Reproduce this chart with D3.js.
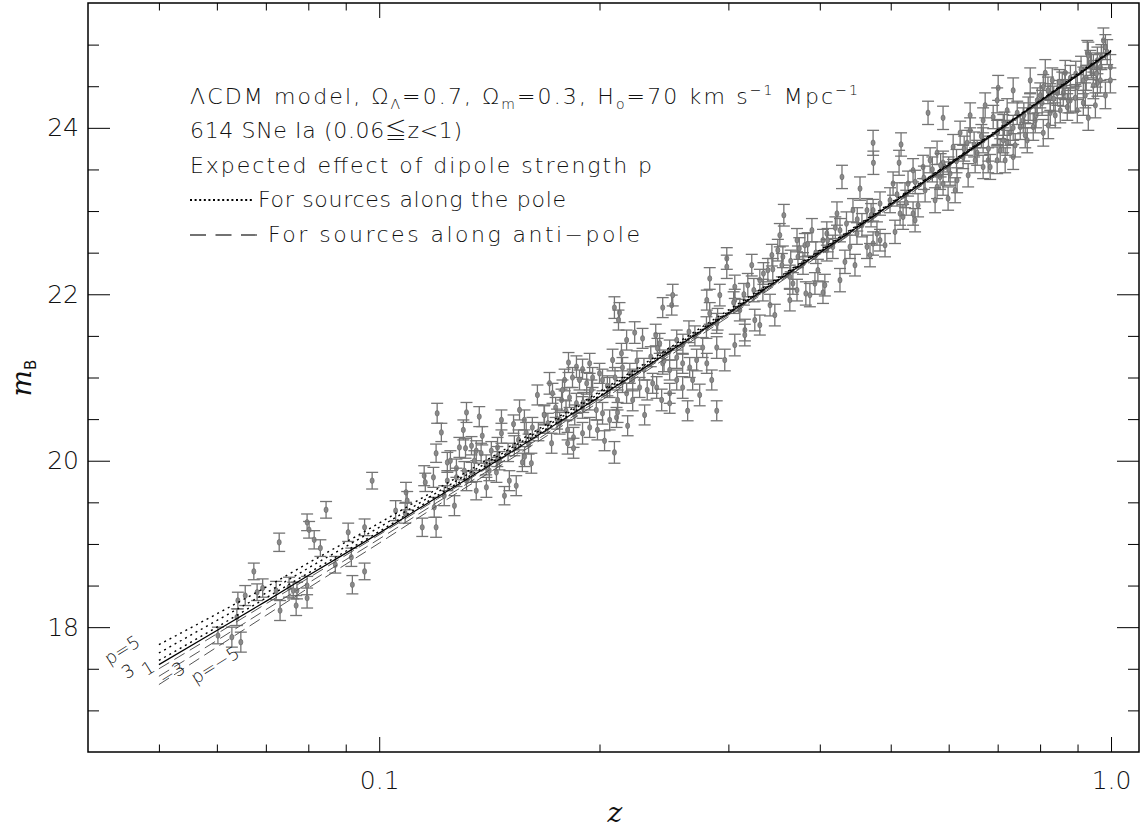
<!DOCTYPE html>
<html>
<head>
<meta charset="utf-8">
<script src="https://cdn.jsdelivr.net/npm/d3@7"></script>
<style>
  body { margin: 0; background: #fff; }
  svg text { font-family: "DejaVu Sans", sans-serif; font-weight: 200; fill: #111; }
</style>
</head>
<body>
<svg id="chart" width="1142" height="829"></svg>
<script>

// ---- data ----
// supernova redshifts, apparent B magnitudes and 1-sigma errors
var snZ = [
  0.0730,0.0846,0.0797,0.0802,0.0815,0.0831,0.0907,0.0955,0.0916,0.0871,
  0.0955,0.0919,0.0674,0.0693,0.0681,0.0656,0.0641,0.0723,0.0753,0.0763,
  0.0772,0.0770,0.0797,0.0797,0.0732,0.0639,0.0602,0.0629,0.0647,0.0978,
  0.1200,0.1316,0.1216,0.1303,0.1370,0.1383,0.1469,0.1469,0.1526,0.1588,
  0.1619,0.1196,0.1239,0.1251,0.1275,0.1287,0.1312,0.1337,0.1357,0.1378,
  0.1423,0.1451,0.1152,0.1156,0.1186,0.1239,0.1275,0.1316,0.1337,0.1357,
  0.1401,0.1446,0.1483,0.1506,0.1539,0.1569,0.1614,0.1088,0.1092,0.1053,
  0.1085,0.1145,0.1196,0.1189,0.1645,0.1709,0.1725,0.1814,0.1860,0.1896,
  0.1939,0.1792,0.1837,0.1878,0.1921,0.1957,0.2000,0.2019,0.2065,0.1742,
  0.1775,0.1820,0.1860,0.1896,0.1939,0.1980,0.2019,0.2065,0.2110,0.1764,
  0.1809,0.1843,0.1809,0.1843,0.1720,0.1896,0.1939,0.1987,0.2084,0.2143,
  0.2178,0.2234,0.2290,0.2150,0.2220,0.2269,0.2178,0.2220,0.2117,0.2117,
  0.2096,0.2130,0.2123,0.2387,0.2440,0.2510,0.2518,0.2417,0.2494,0.2550,
  0.2598,0.2656,0.2715,0.2803,0.2803,0.2829,0.2494,0.2550,0.2598,0.2494,
  0.2494,0.2394,0.2324,0.2681,0.2892,0.2892,0.2767,0.2440,0.2364,0.4289,
  0.4539,0.4730,0.4735,0.5165,0.5133,0.5623,0.5895,0.3572,0.3527,0.3505,
  0.3561,0.3723,0.3734,0.3794,0.2985,0.2985,0.2829,0.2920,0.3061,0.3312,
  0.3344,0.3640,0.3675,0.3723,0.3828,0.3939,0.4040,0.4089,0.4040,0.4222,
  0.4262,0.4089,0.4167,0.4398,0.4496,0.4440,0.4640,0.4730,0.4834,0.4788,
  0.4834,0.4730,0.4640,0.4989,0.5037,0.5149,0.5198,0.5364,0.5398,0.5280,
  0.5364,0.5536,0.5659,0.5785,0.5895,0.5840,0.5895,0.6027,0.6161,0.5785,
  0.6085,0.6220,0.6419,0.6358,0.6279,0.6562,0.6687,0.6687,0.6837,0.6687,
  0.6902,0.7011,0.6989,0.7212,0.7124,0.7124,0.7056,0.7281,0.7350,0.7444,
  0.7586,0.7755,0.8131,0.8080,0.7929,0.8260,0.8444,0.8659,0.8605,0.8797,
  0.8993,0.9165,0.9281,0.9369,0.9580,0.9763,0.9825,0.9670,0.9979,0.9980,
  0.9580,0.9165,0.8993,0.8080,0.7683,0.7515,0.7829,0.8260,0.8524,0.8714,
  0.7212,0.7350,0.6989,0.6989,0.9880,0.9310,0.9460,0.3110,0.3260,0.3420,
  0.3160,0.2892,
  0.2032,0.2096,0.2185,0.2305,0.2432,0.2639,0.2741,0.2847,0.2966,0.3061,
  0.3159,0.3312,0.3472,0.3640,0.3877,0.4064,0.4262,0.4468,0.4684,0.4911,
  0.3061,0.3189,0.3229,0.3397,0.3440,0.3816,0.3902,0.3976,0.4329,0.4567,
  0.5068,0.5230,0.5449,0.5571,0.5749,0.5989,0.6123,0.6379,0.6521,0.6794,
  0.7167,0.7397,0.7634,0.7879,0.8208,0.8390,0.8742,0.8936,0.9223,0.9458,
  0.9670,0.9825,0.9520,0.9310,0.8578,0.8312,0.8004,0.7707,0.6730,0.6419,
  0.1227,0.1267,0.1307,0.1349,0.1414,0.1460,0.1530,0.1579,0.1682,0.1555,
  0.140,0.145,0.150,0.155,0.160,0.165,0.170,0.175,0.180,0.185,
  0.190,0.195,0.158,0.168,0.178,0.205,0.210,0.215,0.220,0.225,
  0.230,0.235,0.240,0.245,0.255,0.260,0.265,0.270,0.280,0.290,
  0.305,0.315,0.325,0.335,0.345,0.355,0.365,0.375,0.385,0.395,
  0.410,0.420,0.435,0.450,0.470,0.510,0.525,0.540,0.555,0.570,
  0.585,0.600,0.615,0.630,0.650,0.665,0.680,0.700,0.715,0.735,
  0.760,0.775,0.790,0.805,0.820,0.835,0.850,0.865,0.880,0.895,
  0.910,0.925,0.940,0.955,0.970
];
var snM = [
  19.02,19.41,19.26,19.17,19.05,18.95,19.14,19.20,18.84,18.75,
  18.67,18.51,18.67,18.47,18.42,18.38,18.32,18.44,18.48,18.44,
  18.44,18.26,18.50,18.35,18.20,18.12,17.90,17.88,17.82,19.76,
  20.57,20.58,20.34,20.37,20.53,20.30,20.49,20.33,20.44,20.34,
  20.40,20.09,19.98,20.00,19.91,20.16,20.15,20.18,20.12,20.09,
  20.12,20.16,19.82,19.74,19.80,19.76,19.80,19.76,19.86,19.64,
  19.68,19.86,19.58,19.76,19.70,19.98,19.97,19.62,19.52,19.40,
  19.37,19.20,19.20,19.44,20.79,20.93,20.81,21.18,21.13,21.10,
  21.17,20.97,21.00,20.97,20.93,21.00,21.05,20.97,20.88,20.64,
  20.73,20.76,20.69,20.64,20.73,20.61,20.57,20.49,20.52,20.45,
  20.37,20.28,20.21,20.15,20.21,20.33,20.40,20.37,21.21,21.29,
  21.45,21.54,21.47,21.12,20.97,20.88,20.81,20.73,20.58,20.73,
  21.84,21.78,21.69,21.51,21.84,21.87,21.99,21.41,21.33,21.24,
  21.17,21.12,21.21,21.17,21.93,21.77,21.09,20.97,20.88,20.81,
  20.69,20.88,20.85,20.97,21.36,21.65,21.36,21.17,20.93,23.41,
  23.27,23.82,23.58,23.80,23.58,24.18,24.12,22.95,22.71,22.53,
  22.45,22.65,22.45,22.37,22.43,22.33,22.19,21.99,22.09,22.17,
  22.05,22.21,22.13,22.05,22.01,22.13,22.02,22.73,22.65,22.97,
  22.77,22.53,22.57,22.57,22.73,23.01,23.01,23.01,23.09,22.73,
  22.65,22.61,22.57,23.13,23.33,22.97,22.93,22.97,22.89,23.33,
  23.49,23.53,23.61,23.70,23.58,23.41,23.33,23.45,23.37,23.29,
  23.77,23.94,23.97,23.82,23.65,23.70,23.85,23.53,23.53,24.09,
  24.13,24.48,24.33,24.21,24.01,23.85,23.73,23.94,24.45,24.18,
  24.09,24.57,24.66,24.49,24.33,24.37,24.42,24.66,24.42,24.33,
  24.49,24.57,24.90,24.78,24.81,25.05,24.97,24.73,24.73,24.57,
  24.54,24.30,24.21,23.94,23.85,24.01,24.01,24.18,24.21,24.25,
  23.82,23.65,23.61,23.94,24.91,24.87,24.73,21.81,21.69,21.87,
  21.57,20.60,
  20.24,20.10,20.42,20.55,20.73,20.60,20.79,20.97,21.21,21.39,
  21.51,21.63,21.75,21.93,21.99,22.11,22.17,22.35,22.47,22.59,
  21.93,22.11,22.35,22.29,22.47,22.59,22.77,22.29,22.39,22.83,
  22.75,23.19,23.07,23.25,23.13,23.15,23.25,23.43,23.61,23.61,
  23.61,23.79,23.91,24.09,24.03,24.15,24.33,24.36,24.39,24.51,
  24.57,24.39,24.27,24.12,24.51,24.57,24.39,24.21,24.27,24.15,
  19.58,19.46,19.88,20.00,19.88,20.00,20.18,20.49,20.55,20.61,
  19.95,20.05,20.10,20.25,20.20,20.35,20.45,20.50,20.60,20.55,
  20.70,20.85,20.05,20.55,20.85,20.90,21.00,20.95,21.05,21.20,
  21.10,21.25,21.35,21.20,21.45,21.40,21.55,21.50,21.60,21.70,
  21.90,22.00,22.05,22.25,22.30,22.35,22.40,22.55,22.60,22.50,
  22.65,22.80,22.85,22.90,22.95,23.20,23.10,23.35,23.40,23.50,
  23.55,23.50,23.60,23.75,23.80,23.90,23.75,23.95,24.05,24.00,
  24.15,24.25,24.15,24.30,24.45,24.35,24.55,24.50,24.60,24.65,
  24.70,24.60,24.75,24.65,24.85
];
var snErr = [
  0.11,0.10,0.10,0.10,0.11,0.10,0.11,0.10,0.11,0.10,
  0.10,0.11,0.10,0.11,0.10,0.12,0.10,0.11,0.12,0.10,
  0.10,0.12,0.11,0.12,0.12,0.10,0.10,0.12,0.12,0.10,
  0.12,0.12,0.11,0.12,0.12,0.11,0.12,0.12,0.11,0.12,
  0.12,0.11,0.12,0.12,0.11,0.12,0.12,0.11,0.12,0.12,
  0.11,0.12,0.12,0.11,0.12,0.12,0.11,0.12,0.12,0.11,
  0.12,0.12,0.11,0.12,0.12,0.11,0.12,0.12,0.11,0.12,
  0.12,0.11,0.12,0.12,0.12,0.13,0.12,0.12,0.13,0.12,
  0.12,0.13,0.12,0.12,0.13,0.12,0.12,0.13,0.12,0.12,
  0.13,0.12,0.12,0.13,0.12,0.12,0.13,0.12,0.12,0.13,
  0.12,0.12,0.13,0.12,0.12,0.13,0.12,0.12,0.13,0.12,
  0.12,0.13,0.12,0.12,0.13,0.12,0.12,0.13,0.12,0.12,
  0.13,0.12,0.12,0.13,0.12,0.12,0.13,0.12,0.12,0.13,
  0.12,0.12,0.13,0.12,0.12,0.13,0.12,0.12,0.13,0.12,
  0.12,0.13,0.12,0.12,0.13,0.12,0.12,0.13,0.12,0.14,
  0.14,0.15,0.14,0.14,0.15,0.14,0.14,0.13,0.14,0.13,
  0.13,0.14,0.13,0.13,0.13,0.14,0.13,0.13,0.14,0.13,
  0.13,0.14,0.13,0.13,0.14,0.13,0.13,0.14,0.13,0.14,
  0.14,0.13,0.14,0.14,0.13,0.14,0.14,0.13,0.14,0.14,
  0.13,0.14,0.14,0.15,0.14,0.14,0.15,0.14,0.14,0.15,
  0.14,0.14,0.15,0.14,0.14,0.15,0.14,0.14,0.15,0.14,
  0.15,0.14,0.15,0.15,0.14,0.15,0.15,0.14,0.15,0.15,
  0.14,0.15,0.15,0.14,0.15,0.15,0.14,0.15,0.15,0.14,
  0.15,0.15,0.16,0.15,0.15,0.16,0.15,0.15,0.16,0.15,
  0.15,0.16,0.15,0.15,0.16,0.15,0.15,0.16,0.15,0.15,
  0.16,0.15,0.15,0.16,0.15,0.15,0.16,0.15,0.15,0.16,
  0.15,0.15,0.16,0.15,0.15,0.16,0.15,0.13,0.13,0.13,
  0.13,0.12,
  0.12,0.13,0.12,0.12,0.13,0.12,0.13,0.12,0.13,0.13,
  0.13,0.12,0.13,0.13,0.14,0.13,0.14,0.13,0.14,0.14,
  0.13,0.14,0.13,0.14,0.13,0.14,0.14,0.13,0.14,0.14,
  0.14,0.15,0.14,0.14,0.15,0.14,0.15,0.14,0.15,0.15,
  0.15,0.14,0.15,0.15,0.16,0.15,0.15,0.16,0.15,0.16,
  0.15,0.16,0.15,0.15,0.16,0.15,0.15,0.16,0.15,0.15,
  0.12,0.12,0.11,0.12,0.12,0.11,0.12,0.12,0.12,0.12,
  0.12,0.12,0.11,0.12,0.12,0.11,0.12,0.12,0.12,0.12,
  0.12,0.12,0.12,0.11,0.12,0.12,0.12,0.13,0.12,0.12,
  0.13,0.12,0.12,0.13,0.12,0.12,0.13,0.12,0.13,0.13,
  0.13,0.13,0.14,0.13,0.13,0.14,0.13,0.13,0.14,0.13,
  0.14,0.13,0.14,0.14,0.14,0.14,0.15,0.14,0.14,0.15,
  0.14,0.15,0.14,0.15,0.15,0.14,0.15,0.15,0.14,0.15,
  0.15,0.16,0.15,0.15,0.16,0.15,0.15,0.16,0.15,0.15,
  0.16,0.15,0.15,0.16,0.15
];

// model curves (Lambda-CDM, plus the dipole offsets for p = 5,3,1,-1,-3,-5)
var curveZ   = [0.05, 0.06, 0.07, 0.08, 0.10, 0.12, 0.15, 0.20, 0.30, 0.40, 0.50, 0.60, 0.70, 0.80, 0.90, 1.00];
var mModel   = [17.55,17.96,18.31,18.62,19.13,19.56,20.08,20.77,21.77,22.50,23.08,23.55,23.96,24.32,24.63,24.92];
var mPole5   = [17.79,18.16,18.48,18.77,19.25,19.66,20.16,20.83,21.81,22.53,23.10,23.57,23.98,24.33,24.65,24.93];
var mPole3   = [17.69,18.08,18.41,18.71,19.20,19.62,20.13,20.81,21.79,22.52,23.09,23.57,23.97,24.33,24.64,24.92];
var mPole1   = [17.60,18.00,18.35,18.65,19.15,19.58,20.10,20.78,21.78,22.51,23.08,23.56,23.97,24.32,24.64,24.92];
var mAnti1   = [17.50,17.92,18.28,18.59,19.11,19.54,20.07,20.76,21.76,22.49,23.07,23.55,23.96,24.31,24.63,24.91];
var mAnti3   = [17.41,17.84,18.21,18.53,19.06,19.50,20.03,20.74,21.75,22.48,23.06,23.54,23.95,24.31,24.63,24.91];
var mAnti5   = [17.31,17.76,18.14,18.47,19.01,19.46,20.00,20.71,21.73,22.47,23.05,23.53,23.95,24.30,24.62,24.90];

var xMajor = [0.1, 1.0];
var xMinor = [0.05, 0.06, 0.07, 0.08, 0.09, 0.2, 0.3, 0.4, 0.5, 0.6, 0.7, 0.8, 0.9];
var yMajor = [18, 20, 22, 24];
var yMinor = [17, 17.5, 18.5, 19, 19.5, 20.5, 21, 21.5, 22.5, 23, 23.5, 24.5, 25];

// ---- layout ----
var svg = d3.select("#chart");
var plotL = 88, plotR = 1139, plotT = 3, plotB = 752;

var x = d3.scaleLog().domain([0.04, 1.092]).range([plotL, plotR]);
var y = d3.scaleLinear().domain([16.5, 25.5]).range([plotB, plotT]);

var errColor = "#747474";

// error bars + points
var sn = svg.append("g").attr("class", "sne");
d3.range(snZ.length).forEach(function(i) {
  var cx = x(snZ[i]), lo = y(snM[i] - snErr[i]), hi = y(snM[i] + snErr[i]);
  var g = sn.append("g").attr("stroke", errColor).attr("stroke-width", 1.3);
  g.append("line").attr("x1", cx).attr("x2", cx).attr("y1", lo).attr("y2", hi);
  g.append("line").attr("x1", cx - 6).attr("x2", cx + 6).attr("y1", lo).attr("y2", lo);
  g.append("line").attr("x1", cx - 6).attr("x2", cx + 6).attr("y1", hi).attr("y2", hi);
  sn.append("ellipse")
      .attr("cx", cx).attr("cy", y(snM[i]))
      .attr("rx", 2).attr("ry", 2.8)
      .attr("fill", "#8a8a8a").attr("stroke", "#6e6e6e").attr("stroke-width", 0.8);
});

// model curves
var line = d3.line()
    .x(function(d) { return x(d[0]); })
    .y(function(d) { return y(d[1]); })
    .curve(d3.curveMonotoneX);

function pairs(ms) { return curveZ.map(function(z, i) { return [z, ms[i]]; }); }

var curves = svg.append("g").attr("fill", "none");
[mPole5, mPole3, mPole1].forEach(function(ms) {
  curves.append("path").attr("d", line(pairs(ms)))
      .attr("stroke", "#000").attr("stroke-width", 1.4).attr("stroke-dasharray", "2,4");
});
[mAnti1, mAnti3, mAnti5].forEach(function(ms) {
  curves.append("path").attr("d", line(pairs(ms)))
      .attr("stroke", "#555").attr("stroke-width", 1).attr("stroke-dasharray", "12,6");
});
curves.append("path").attr("d", line(pairs(mModel)))
    .attr("stroke", "#000").attr("stroke-width", 1.2);

// curve labels
var curveLabels = [
  {t: "p=5",  x: 122, y: 650},
  {t: "3",    x: 128, y: 671},
  {t: "1",    x: 148, y: 668},
  {t: "\u22123", x: 172, y: 673},
  {t: "p=\u22125", x: 215, y: 665}
];
svg.append("g").selectAll("text").data(curveLabels).enter().append("text")
    .attr("transform", function(d) { return "translate(" + d.x + "," + d.y + ") rotate(-32)"; })
    .attr("text-anchor", "middle").attr("dy", "0.35em")
    .attr("font-size", 18)
    .text(function(d) { return d.t; });

// frame
svg.append("rect").attr("x", plotL).attr("y", plotT)
    .attr("width", plotR - plotL).attr("height", plotB - plotT)
    .attr("fill", "none").attr("stroke", "#000").attr("stroke-width", 1.5);

function styleAxis(g) {
  g.select(".domain").remove();
  g.selectAll(".tick line").attr("stroke", "#000").attr("stroke-width", 1);
  g.selectAll(".tick text").attr("font-size", 25).attr("fill", "#111")
      .attr("font-family", "DejaVu Sans").attr("font-weight", 200);
}

svg.append("g").attr("transform", "translate(0," + plotB + ")")
    .call(d3.axisBottom(x).tickValues(xMajor).tickFormat(d3.format(".1f")).tickSize(-15).tickPadding(19))
    .call(styleAxis);
svg.append("g").attr("transform", "translate(0," + plotB + ")")
    .call(d3.axisBottom(x).tickValues(xMinor).tickFormat("").tickSize(-7.5))
    .call(styleAxis);
svg.append("g").attr("transform", "translate(0," + plotT + ")")
    .call(d3.axisTop(x).tickValues(xMajor).tickFormat("").tickSize(-15))
    .call(styleAxis);
svg.append("g").attr("transform", "translate(0," + plotT + ")")
    .call(d3.axisTop(x).tickValues(xMinor).tickFormat("").tickSize(-7.5))
    .call(styleAxis);
svg.append("g").attr("transform", "translate(" + plotL + ",0)")
    .call(d3.axisLeft(y).tickValues(yMajor).tickFormat(d3.format("d")).tickSize(-22).tickPadding(9))
    .call(styleAxis);
svg.append("g").attr("transform", "translate(" + plotL + ",0)")
    .call(d3.axisLeft(y).tickValues(yMinor).tickFormat("").tickSize(-11))
    .call(styleAxis);
svg.append("g").attr("transform", "translate(" + plotR + ",0)")
    .call(d3.axisRight(y).tickValues(yMajor).tickFormat("").tickSize(-22))
    .call(styleAxis);
svg.append("g").attr("transform", "translate(" + plotR + ",0)")
    .call(d3.axisRight(y).tickValues(yMinor).tickFormat("").tickSize(-11))
    .call(styleAxis);

// axis titles
svg.append("text").attr("x", 615).attr("y", 822)
    .attr("text-anchor", "middle").attr("font-size", 28)
    .style("font-family", "'DejaVu Serif', serif").style("font-style", "italic").style("font-weight", 400)
    .text("z");
var yt = svg.append("text").attr("transform", "translate(31,378) rotate(-90)")
    .attr("text-anchor", "middle").attr("font-size", 28)
    .style("font-family", "'DejaVu Serif', serif").style("font-style", "italic").style("font-weight", 400);
yt.append("tspan").text("m");
yt.append("tspan").attr("dy", 5).attr("font-size", 15).style("font-style", "normal").style("font-family", "'DejaVu Sans'").text("B");

// annotation block
var tx = 190, fs = 22;
var t1 = svg.append("text").attr("x", tx).attr("y", 104).attr("font-size", fs)
    .attr("textLength", 668).attr("lengthAdjust", "spacing");
t1.append("tspan").text("\u039BCDM model, \u03A9");
t1.append("tspan").attr("dy", 5).attr("font-size", 14).text("\u039B");
t1.append("tspan").attr("dy", -5).text("=0.7, \u03A9");
t1.append("tspan").attr("dy", 5).attr("font-size", 14).text("m");
t1.append("tspan").attr("dy", -5).text("=0.3, H");
t1.append("tspan").attr("dy", 5).attr("font-size", 14).text("o");
t1.append("tspan").attr("dy", -5).text("=70 km s");
t1.append("tspan").attr("dy", -9).attr("font-size", 14).text("\u22121");
t1.append("tspan").attr("dy", 9).text(" Mpc");
t1.append("tspan").attr("dy", -9).attr("font-size", 14).text("\u22121");

var t2 = svg.append("text").attr("x", tx).attr("y", 138).attr("font-size", fs)
    .attr("textLength", 272).attr("lengthAdjust", "spacing");
t2.append("tspan").text("614 SNe Ia (0.06");
t2.append("tspan").style("font-family", "'Noto Sans CJK JP', 'DejaVu Sans'").style("font-weight", 300).text("\u2266");
t2.append("tspan").text("z<1)");

svg.append("text").attr("x", tx).attr("y", 173).attr("font-size", fs)
    .attr("textLength", 462).attr("lengthAdjust", "spacing")
    .text("Expected effect of dipole strength p");
svg.append("line").attr("x1", 190).attr("x2", 252).attr("y1", 200).attr("y2", 200)
    .attr("stroke", "#000").attr("stroke-width", 2).attr("stroke-dasharray", "2,2.6");
svg.append("text").attr("x", 258).attr("y", 207).attr("font-size", fs)
    .attr("textLength", 308).attr("lengthAdjust", "spacing")
    .text("For sources along the pole");
svg.append("line").attr("x1", 190).attr("x2", 257).attr("y1", 235).attr("y2", 235)
    .attr("stroke", "#444").attr("stroke-width", 1.3).attr("stroke-dasharray", "16,9.5");
svg.append("text").attr("x", 268).attr("y", 242).attr("font-size", fs)
    .attr("textLength", 372).attr("lengthAdjust", "spacing")
    .text("For sources along anti\u2212pole");

</script>
</body>
</html>
